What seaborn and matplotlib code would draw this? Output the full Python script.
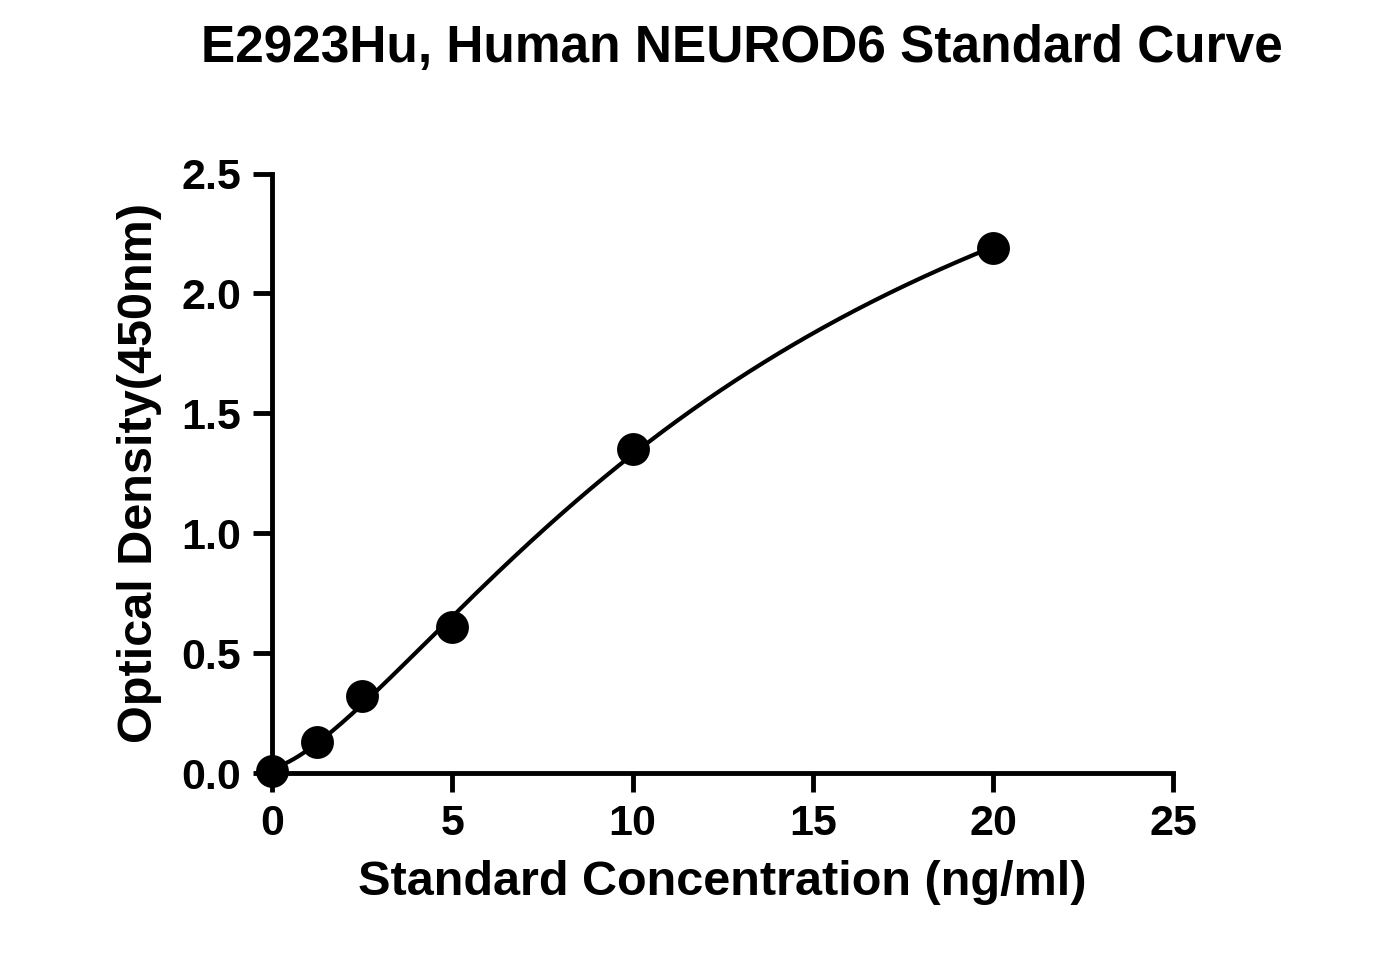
import numpy as np
import matplotlib
matplotlib.use("Agg")
import matplotlib.pyplot as plt
import seaborn as sns

# Data
conc = [0, 1.25, 2.5, 5, 10, 20]
od = [0.01, 0.13, 0.32, 0.61, 1.35, 2.19]


def fit_4pl(x, y):
    # crude grid search over b, c; a and d solved by least squares
    x = np.asarray(x, float)
    y = np.asarray(y, float)
    best = None
    for b in np.linspace(1.0, 3.0, 81):
        for c in np.linspace(5, 60, 221):
            g = 1.0 / (1.0 + (x / c) ** b)
            A = np.column_stack([g, 1 - g])
            (a, d), *_ = np.linalg.lstsq(A, y, rcond=None)
            err = np.sum((A @ [a, d] - y) ** 2)
            if best is None or err < best[0]:
                best = (err, a, b, c, d)
    _, a, b, c, d = best
    return lambda t: d + (a - d) / (1.0 + (t / c) ** b)


sns.set_style("ticks")
plt.rcParams['font.family'] = ['Liberation Sans', 'DejaVu Sans']
plt.rcParams['font.weight'] = 'bold'
plt.rcParams['text.color'] = 'black'
plt.rcParams['axes.labelcolor'] = 'black'
plt.rcParams['xtick.color'] = 'black'
plt.rcParams['ytick.color'] = 'black'
plt.rcParams['axes.edgecolor'] = 'black'

fig = plt.figure(figsize=(13.74, 9.75), dpi=100)
ax = fig.add_axes([0.198, 0.207, 0.656, 0.615])

curve = fit_4pl(conc, od)
xs = np.linspace(0, 20, 300)
sns.lineplot(x=xs, y=curve(xs), ax=ax, color='black', linewidth=3)
sns.scatterplot(x=conc, y=od, ax=ax, color='black', s=480, edgecolor='black',
                zorder=3, clip_on=False)

ax.set_xlim(0, 25)
ax.set_ylim(0, 2.5)
ax.set_xticks([0, 5, 10, 15, 20, 25])
ax.set_yticks([0, 0.5, 1.0, 1.5, 2.0, 2.5])
ax.set_yticklabels(['0.0', '0.5', '1.0', '1.5', '2.0', '2.5'])
ax.tick_params(labelsize=31, width=3.5, length=14, pad=8)
for s in ['left', 'bottom']:
    ax.spines[s].set_linewidth(3.5)
sns.despine(ax=ax)
for lab in ax.get_xticklabels() + ax.get_yticklabels():
    lab.set_fontweight('bold')

ax.set_xlabel('Standard Concentration (ng/ml)', fontsize=35, fontweight='bold', labelpad=12)
ax.set_ylabel('Optical Density(450nm)', fontsize=35, fontweight='bold', labelpad=14)
fig.suptitle('E2923Hu, Human NEUROD6 Standard Curve', fontsize=37, fontweight='bold',
             x=0.54, y=0.975)

fig.savefig('out.png', dpi=100)
